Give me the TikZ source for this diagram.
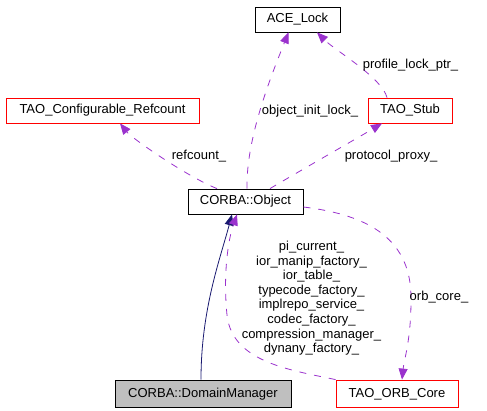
\documentclass[tikz,border=0pt]{standalone}
\usepackage{fontspec}
\setmainfont{Liberation Sans}
\usetikzlibrary{arrows.meta}
\definecolor{edgepurple}{HTML}{9A32CD}
\definecolor{edgenavy}{HTML}{191970}
\definecolor{boxgray}{HTML}{BFBFBF}
\begin{document}
\begin{tikzpicture}[x=1pt,y=-1pt,font=\fontsize{13}{14.57}\selectfont,
  classbox/.style={draw=black,line width=0.8pt,minimum height=25pt,inner sep=0pt,text height=9.5pt,text depth=2.5pt},
  redbox/.style={classbox,draw=red},
  edgelabel/.style={text height=9.5pt,text depth=2.5pt,inner sep=0pt},
  memberedge/.style={draw=edgepurple,line width=0.8pt,dash pattern=on 7pt off 8pt,-{Triangle[length=11pt,width=9pt]}},
  baseedge/.style={draw=edgenavy,line width=0.8pt,-{Triangle[length=11pt,width=9pt]}}]
\useasboundingbox (0,0) rectangle (487,411);
\node[classbox,minimum width=85pt] (acelock) at (297.5,19.5) {ACE\_Lock};
\node[redbox,minimum width=193pt] (refcount) at (102.5,110.5) {TAO\_Configurable\_Refcount};
\node[redbox,minimum width=84pt] (stub) at (410,110.5) {TAO\_Stub};
\node[classbox,minimum width=115pt] (object) at (245.5,201.5) {CORBA::Object};
\node[classbox,minimum width=176pt,minimum height=27pt,fill=boxgray] (domain) at (203,393.5) {CORBA::DomainManager};
\node[redbox,minimum width=122pt,minimum height=27pt] (orbcore) at (397,393.5) {TAO\_ORB\_Core};
\draw[baseedge] ([xshift=-2pt]domain.north) .. controls +(0,-70) and +(-12,45) .. ([xshift=-13.5pt]object.south);
\draw[memberedge] (orbcore.north west) .. controls (290,370) and (232,362) .. (227,315) .. controls (223,275) and (228,240) .. ([xshift=-8.5pt]object.south);
\draw[memberedge] ([yshift=-5.5pt]object.east) .. controls (370,215) and (412,240) .. (411,300) .. controls (411,340) and (404,360) .. ([xshift=5pt]orbcore.north);
\draw[memberedge] ([xshift=1.5pt]object.north) .. controls +(-1,-50) and +(-18,45) .. ([xshift=-9pt]acelock.south);
\draw[memberedge] ([xshift=-23pt]stub.north) .. controls +(-5,-20) and +(18,18) .. ([xshift=19.5pt]acelock.south);
\draw[memberedge] ([xshift=-28.5pt]object.north) .. controls +(-30,-12) and +(12,15) .. ([xshift=17.5pt]refcount.south);
\draw[memberedge] ([xshift=24.5pt]object.north) .. controls +(20,-12) and +(-20,12) .. ([xshift=-28pt]stub.south);
\node[edgelabel] (lblinitlock) at (310,110.7) {object\_init\_lock\_};
\node[edgelabel] (lblprofile) at (410.5,64.7) {profile\_lock\_ptr\_};
\node[edgelabel] (lblrefcount) at (199,156.2) {refcount\_};
\node[edgelabel] (lblproxy) at (391,156.2) {protocol\_proxy\_};
\node[edgelabel] (lblorbcore) at (439,297.2) {orb\_core\_};
\node[align=center,inner sep=0pt] (lblservices) at (311.5,298.3) {pi\_current\_\\ior\_manip\_factory\_\\ior\_table\_\\typecode\_factory\_\\implrepo\_service\_\\codec\_factory\_\\compression\_manager\_\\dynany\_factory\_};
\end{tikzpicture}
\end{document}
